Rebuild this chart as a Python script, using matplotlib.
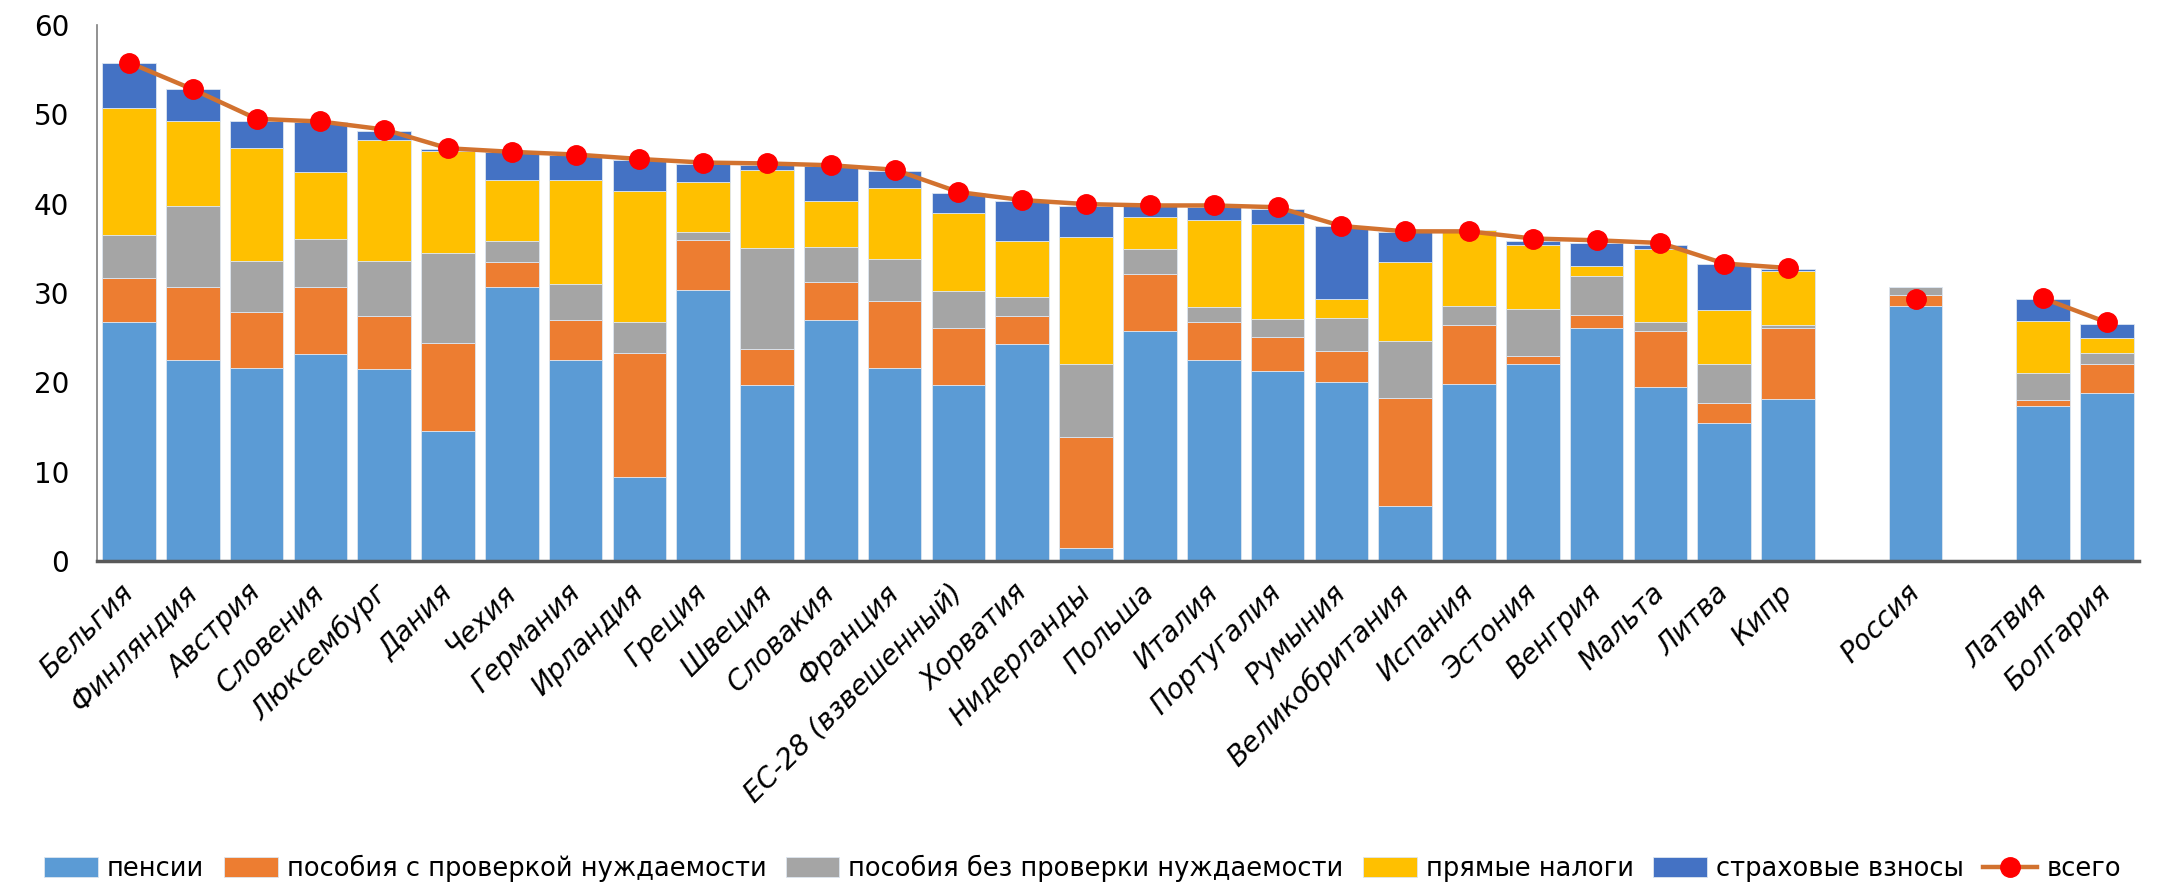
import numpy as np
import matplotlib
matplotlib.use("Agg")
import matplotlib.pyplot as plt

# data (empty strings = blank slots in the original table)
countries = ["Бельгия", "Финляндия", "Австрия", "Словения", "Люксембург", "Дания",
             "Чехия", "Германия", "Ирландия", "Греция", "Швеция", "Словакия",
             "Франция", "ЕС-28 (взвешенный)", "Хорватия", "Нидерланды", "Польша",
             "Италия", "Португалия", "Румыния", "Великобритания", "Испания",
             "Эстония", "Венгрия", "Мальта", "Литва", "Кипр", "", "Россия", "",
             "Латвия", "Болгария"]

pensions = [26.7, 22.5, 21.6, 23.2, 21.5, 14.5, 30.7, 22.5, 9.4, 30.3, 19.7, 27.0,
            21.6, 19.7, 24.3, 1.45, 25.8, 22.5, 21.3, 20.0, 6.15, 19.85, 22.0, 26.1,
            19.5, 15.5, 18.15, None, 28.6, None, 17.4, 18.85]
means_tested = [5.0, 8.2, 6.3, 7.5, 5.9, 9.9, 2.8, 4.5, 13.9, 5.6, 4.0, 4.2,
                7.5, 6.4, 3.1, 12.45, 6.3, 4.3, 3.8, 3.5, 12.15, 6.6, 1.0, 1.4,
                6.3, 2.15, 7.95, None, 1.2, None, 0.6, 3.15]
non_means_tested = [4.8, 9.0, 5.7, 5.4, 6.2, 10.1, 2.3, 4.0, 3.5, 0.9, 11.35, 4.0,
                    4.7, 4.1, 2.1, 8.2, 2.8, 1.6, 2.0, 3.7, 6.3, 2.15, 5.2, 4.4,
                    1.0, 4.45, 0.35, None, 0.9, None, 3.1, 1.3]
direct_taxes = [14.2, 9.6, 12.6, 7.5, 13.5, 11.4, 6.9, 11.6, 14.6, 5.6, 8.75, 5.1,
                8.0, 8.7, 6.3, 14.15, 3.6, 9.8, 10.6, 2.1, 8.9, 8.5, 7.2, 1.1,
                8.1, 6.0, 6.05, None, -0.2, None, 5.8, 1.65]
contributions = [5.1, 3.5, 3.1, 5.5, 1.0, 0.2, 3.1, 2.9, 3.5, 2.0, 0.5, 3.9,
                 1.9, 2.3, 4.5, 3.45, 1.2, 1.4, 1.7, 8.2, 3.3, -0.2, 0.4, 2.6,
                 0.5, 5.2, 0.2, None, 0.0, None, 2.4, 1.55]
total = [55.8, 52.8, 49.5, 49.2, 48.3, 46.2, 45.8, 45.5, 45.0, 44.6, 44.5, 44.3,
         43.8, 41.3, 40.4, 39.95, 39.8, 39.8, 39.6, 37.5, 36.9, 36.9, 36.1, 35.9,
         35.6, 33.3, 32.8, None, 29.3, None, 29.4, 26.7]

series = [("пенсии", pensions, "#5B9BD5"),
          ("пособия с проверкой нуждаемости", means_tested, "#ED7D31"),
          ("пособия без проверки нуждаемости", non_means_tested, "#A5A5A5"),
          ("прямые налоги", direct_taxes, "#FFC000"),
          ("страховые взносы", contributions, "#4472C4")]

plt.rcParams["font.family"] = ["DejaVu Sans"]

fig = plt.figure(figsize=(21.65, 8.86), dpi=100)
ax = fig.add_axes([0.0448, 0.3668, 0.9432, 0.605])

x = np.arange(len(countries))
pos_bottom = np.zeros(len(countries))
neg_bottom = np.zeros(len(countries))
handles = []
for label, vals, color in series:
    v = np.nan_to_num(np.array(vals, dtype=float))
    bottom = np.where(v >= 0, pos_bottom, neg_bottom)
    b = ax.bar(x, v, width=0.84, bottom=bottom, color=color, label=label,
               edgecolor="#dde6f0", linewidth=0.6)
    handles.append(b)
    pos_bottom += np.where(v >= 0, v, 0)
    neg_bottom += np.where(v < 0, v, 0)

tot = np.array(total, dtype=float)
line, = ax.plot(x, tot, color="#D2722F", linewidth=3.2, marker="o", markersize=14,
                markerfacecolor="#FF0000", markeredgecolor="#FF0000", label="всего",
                zorder=5)
handles.append(line)

ax.set_xlim(-0.5, len(countries) - 0.5)
ax.set_ylim(0, 60)
ax.set_yticks(np.arange(0, 61, 10))
ax.tick_params(axis="y", length=0, pad=20, labelsize=20)
ax.set_xticks(x)
ax.set_xticklabels(countries, rotation=45, ha="right", va="center",
                   rotation_mode="anchor", fontstyle="italic", fontsize=20)
ax.tick_params(axis="x", length=0, pad=20)

for s in ["top", "right"]:
    ax.spines[s].set_visible(False)
ax.spines["left"].set_color("#7F7F7F")
ax.spines["left"].set_linewidth(1.2)
ax.spines["bottom"].set_color("#595959")
ax.spines["bottom"].set_linewidth(2.5)

fig.legend(handles=handles, labels=[h.get_label() for h in handles],
           loc="center", bbox_to_anchor=(0.5, 0.02), ncol=6,
           fontsize=18.5, frameon=False, handlelength=2.1, handleheight=0.8,
           handletextpad=0.35, columnspacing=0.75)

plt.savefig("out.png", dpi=100)
